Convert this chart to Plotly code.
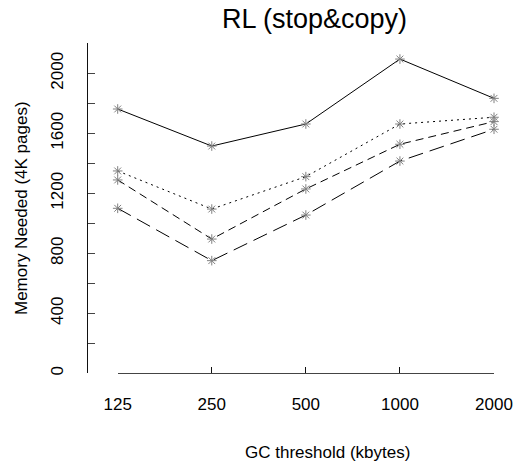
import plotly.graph_objects as go

W, H = 521, 466

thresholds = ["125", "250", "500", "1000", "2000"]
series_a = [1762, 1515, 1662, 2095, 1833]   # solid
series_b = [1349, 1095, 1311, 1662, 1707]   # dotted
series_c = [1289, 895, 1229, 1527, 1678]    # short dash
series_d = [1100, 751, 1055, 1415, 1627]    # long dash

y_tickvals = list(range(0, 2201, 200))
y_ticktext = [str(v) if (v % 400 == 0 and v <= 2000) else "" for v in y_tickvals]

FONT = "Liberation Sans, Arial, sans-serif"

fig = go.Figure()
styles = [
    (series_a, "solid"),
    (series_b, "2px,4px"),
    (series_c, "8px,5px"),
    (series_d, "15px,7px"),
]
for vals, dash in styles:
    fig.add_trace(go.Scatter(
        x=thresholds, y=vals, mode="lines+markers",
        xaxis="x", yaxis="y2",
        line=dict(color="black", width=1, dash=dash),
        marker=dict(symbol="asterisk-open", size=8, color="#808080",
                    line=dict(color="#808080", width=1)),
        cliponaxis=False, showlegend=False,
    ))

fig.update_layout(
    width=W, height=H,
    margin=dict(l=0, r=0, t=0, b=0),
    paper_bgcolor="white", plot_bgcolor="rgba(0,0,0,0)",
    font=dict(family=FONT, size=17, color="black"),
    showlegend=False,
    xaxis=dict(
        type="category", range=[0, 4],
        domain=[117.7 / W, 494 / W],
        anchor="y",
        showline=True, linecolor="#444", linewidth=1,
        ticks="inside", ticklen=6, tickwidth=1.2, tickcolor="#111",
        showgrid=False, zeroline=False,
        ticklabelstandoff=15,
        tickfont=dict(size=17),
        automargin=False,
    ),
    # carrier axis only: places the x axis line
    yaxis=dict(
        range=[-40, 2200],
        domain=[(H - 379.3) / H, (H - 43.3) / H],
        anchor="x",
        visible=False, showline=False, showgrid=False, zeroline=False,
        showticklabels=False, ticks="",
    ),
    yaxis2=dict(
        range=[0, 2200],
        domain=[(H - 373.3) / H, (H - 43.3) / H],
        anchor="free", position=87.3 / W,
        showline=True, linecolor="#111", linewidth=1,
        ticks="inside", ticklen=7, tickcolor="#444",
        tickvals=y_tickvals, ticktext=y_ticktext,
        tickangle=-90,
        showgrid=False, zeroline=False,
        ticklabelstandoff=18,
        tickfont=dict(size=17),
        automargin=False,
    ),
    annotations=[
        dict(text="RL (stop&copy)", xref="paper", yref="paper",
             x=314 / W, y=1 - 19 / H, xanchor="center", yanchor="middle",
             showarrow=False, font=dict(size=27, family=FONT)),
        dict(text="GC threshold (kbytes)", xref="paper", yref="paper",
             x=327 / W, y=1 - 452 / H, xanchor="center", yanchor="middle",
             showarrow=False, font=dict(size=17, family=FONT)),
        dict(text="Memory Needed (4K pages)", xref="paper", yref="paper",
             x=21 / W, y=1 - 208 / H, xanchor="center", yanchor="middle",
             textangle=-90, showarrow=False, font=dict(size=17, family=FONT)),
    ],
)

fig.write_html("out.html")
